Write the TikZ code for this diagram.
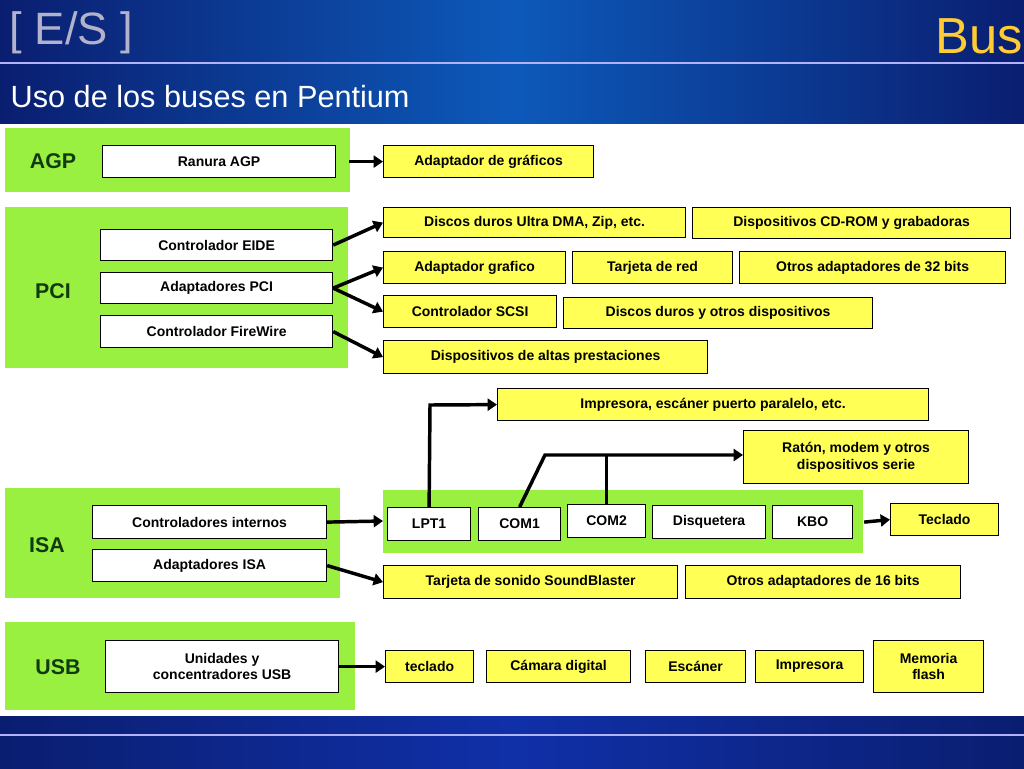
\documentclass[tikz,border=0pt]{standalone}
\usepackage{fontspec}
\setmainfont{Liberation Sans}
\usetikzlibrary{arrows.meta}
\definecolor{gr}{HTML}{99F040}
\definecolor{yl}{HTML}{FFFF55}
\definecolor{dkg}{HTML}{123A12}
\definecolor{hdr}{HTML}{1030A8}
\definecolor{hdl}{HTML}{0A1E70}
\newcommand{\boxfont}{\bfseries\fontsize{10.5}{12.5}\selectfont}
\tikzset{
 wb/.style={draw=black,line width=0.9pt,fill=white,inner sep=1pt},
 yb/.style={draw=black,line width=0.9pt,fill=yl,inner sep=1pt},
 bl/.style={font=\bfseries\fontsize{16}{18}\selectfont,text=dkg},
 ar/.style={line width=2.6pt,-{Triangle[length=7pt,width=9pt]}},
 ln/.style={line width=2.6pt}
}
\newcommand{\bx}[6]{\node[#1,minimum width=#4*0.75pt-#2*0.75pt,minimum height=#6*0.75pt-#5*0.75pt,anchor=north west] (#3) at (#2,#5) {};}
\newcommand{\wt}[6]{\bx{wb}{#1}{#2}{#3}{#4}{#5}\node[font=\boxfont,align=center] at (#2) {#6};}
\newcommand{\ytt}[6]{\bx{yb}{#1}{#2}{#3}{#4}{#5}\node[font=\boxfont,align=center] at (#2) {#6};}
\begin{document}
\begin{tikzpicture}[x=0.75pt,y=-0.75pt]
\useasboundingbox (0,0) rectangle (1024,768);
\fill[white] (0,0) rectangle (1024,768);
% header
\shade[left color=hdl,right color=hdl,middle color=hdr!80!cyan] (0,0) rectangle (1024,123);
\draw[line width=1pt,color=blue!30!white] (0,63) -- (1024,63);
\node[anchor=west,text=blue!20!gray!50!white,font=\fontsize{34}{36}\selectfont] (es) at (5,33) {[ E/S ]};
\node[anchor=east,text=orange!50!yellow!80!white,font=\fontsize{38}{40}\selectfont] (bus) at (1028,36) {Bus};
\node[anchor=west,text=white,font=\fontsize{23}{25}\selectfont] (uso) at (6,97) {Uso de los buses en Pentium};
% footer
\shade[left color=hdl,right color=hdl,middle color=hdr] (0,716) rectangle (1024,768);
\draw[line width=1pt,color=blue!30!white] (0,735) -- (1024,735);
% green areas
\fill[gr] (5,128) rectangle (350,192);
\fill[gr] (5,207) rectangle (348,368);
\fill[gr] (5,488) rectangle (340,598);
\fill[gr] (5,622) rectangle (355,710);
\fill[gr] (383,490) rectangle (863,553);
\node[bl] (agp) at (53,161) {AGP};
\node[bl] (pci) at (53,291) {PCI};
\node[bl] (isa) at (47,545) {ISA};
\node[bl] (usb) at (58,667) {USB};
% white boxes
\wt{102}{ragp}{335}{145}{177}{Ranura AGP}
\wt{100}{eide}{332}{229}{260}{Controlador EIDE}
\wt{100}{apci}{332}{272}{303}{Adaptadores PCI}
\wt{100}{fw}{332}{315}{347}{Controlador FireWire}
\wt{92}{ci}{326}{505}{538}{Controladores internos}
\wt{92}{aisa}{326}{549}{581}{Adaptadores ISA}
\wt{105}{uusb}{338}{640}{692}{Unidades y\\concentradores USB}
\wt{387}{lpt}{470}{507}{540}{LPT1}
\wt{478}{com1}{560}{507}{540}{COM1}
\wt{567}{com2}{645}{504}{537}{COM2}
\wt{652}{disq}{765}{505}{538}{Disquetera}
\wt{772}{kbo}{852}{505}{538}{KBO}
% yellow boxes
\ytt{383}{adg}{593}{145}{177}{Adaptador de gráficos}
\ytt{383}{ddu}{685}{207}{237}{Discos duros Ultra DMA, Zip, etc.}
\ytt{692}{cdr}{1010}{207}{238}{Dispositivos CD-ROM y grabadoras}
\ytt{383}{agr}{565}{251}{283}{Adaptador grafico}
\ytt{572}{tred}{732}{251}{283}{Tarjeta de red}
\ytt{739}{o32}{1005}{251}{283}{Otros adaptadores de 32 bits}
\ytt{383}{scsi}{556}{295}{327}{Controlador SCSI}
\ytt{563}{ddo}{872}{297}{328}{Discos duros y otros dispositivos}
\ytt{383}{dap}{707}{340}{373}{Dispositivos de altas prestaciones}
\ytt{497}{imp}{928}{388}{420}{Impresora, escáner puerto paralelo, etc.}
\ytt{743}{rat}{968}{430}{483}{Ratón, modem y otros\\dispositivos serie}
\ytt{890}{tec}{998}{503}{535}{Teclado}
\ytt{383}{tsb}{677}{565}{598}{Tarjeta de sonido SoundBlaster}
\ytt{685}{o16}{960}{565}{598}{Otros adaptadores de 16 bits}
\ytt{385}{utec}{473}{650}{682}{teclado}
\ytt{486}{cam}{630}{650}{682}{Cámara digital}
\ytt{645}{esc}{745}{650}{682}{Escáner}
\ytt{755}{uimp}{863}{650}{682}{Impresora}
\ytt{873}{mem}{983}{640}{692}{Memoria\\flash}
% arrows
\draw[ar] (ragp.east)++(13,0) -- (adg.west);
\draw[ar] (eide.east) -- (ddu.west);
\draw[ar] (apci.east) -- (agr.west);
\draw[ar] (apci.east) -- (scsi.west);
\draw[ar] (fw.east) -- (dap.west);
\draw[ar] (ci.east) -- (383,521);
\draw[ar] (aisa.east) -- (tsb.west);
\draw[ar] (kbo.east)++(11,0) -- (tec.west);
\draw[ar] (uusb.east) -- (utec.west);
\coordinate (lu) at (430,405);
\coordinate (cu) at (545,455);
\draw[ar] (lpt.north) -- (lu) -- (imp.west);
\draw[ar] (com1.north) -- (cu) -- (cu -| rat.west);
\draw[ln] (com2.north) -- (com2.north |- cu);
\end{tikzpicture}
\end{document}
